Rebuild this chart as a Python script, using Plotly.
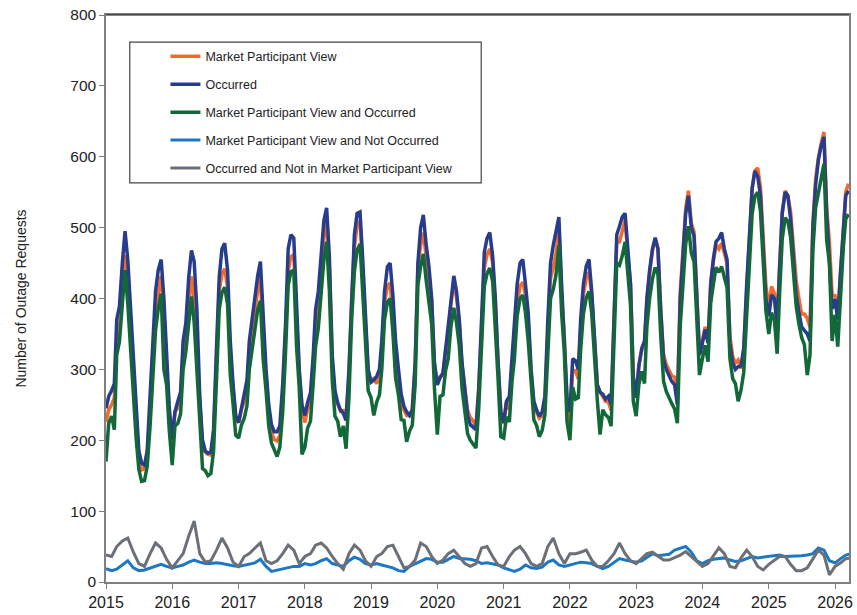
import plotly.graph_objects as go

# semi-monthly dates (1st and 16th of each month), Jan 2015 - Mar 2026
half_month_dates = [f"{y}-{m:02d}-{d:02d}" for y in range(2015, 2027) for m in range(1, 13) for d in (1, 16)
                    if (y, m) <= (2026, 3)]
# monthly dates for the two small series, Jan 2015 - Apr 2026
month_dates = [f"{y}-{m:02d}-01" for y in range(2015, 2027) for m in range(1, 13) if (y, m) <= (2026, 4)]

occurred = [
    245, 262, 270, 280, 370, 389, 450, 495, 455, 390, 310, 245, 185, 168, 165, 185, 260, 340, 410, 440, 455, 400, 310, 245,
    200, 240, 255, 268, 340, 365, 430, 468, 452, 384, 260, 200, 185, 182, 183, 215, 330, 430, 470, 478, 440, 340, 280, 235,
    225, 243, 267, 285, 340, 370, 405, 432, 452, 370, 300, 250, 222, 212, 212, 220, 280, 360, 470, 490, 485, 395, 300, 250,
    235, 253, 267, 320, 384, 410, 469, 510, 528, 460, 320, 270, 253, 243, 238, 228, 300, 410, 490, 520, 522, 455, 385, 300,
    282, 285, 290, 300, 340, 410, 445, 450, 405, 340, 300, 265, 248, 240, 235, 243, 310, 450, 500, 518, 475, 445, 400, 310,
    278, 288, 295, 330, 355, 400, 432, 410, 370, 310, 265, 235, 222, 218, 215, 270, 380, 465, 485, 493, 460, 400, 310, 240,
    225, 255, 262, 320, 360, 420, 450, 455, 420, 380, 300, 255, 243, 234, 240, 262, 370, 450, 475, 495, 515, 420, 350, 260,
    240, 315, 312, 300, 370, 420, 446, 455, 410, 345, 278, 268, 265, 258, 262, 250, 380, 490, 502, 515, 520, 470, 420, 290,
    260, 305, 330, 340, 400, 440, 470, 486, 470, 385, 314, 300, 290, 283, 278, 250, 400, 465, 520, 545, 500, 488, 400, 320,
    337, 356, 337, 420, 455, 480, 485, 493, 470, 455, 337, 309, 300, 304, 305, 330, 420, 500, 555, 580, 572, 545, 470, 400,
    375, 405, 400, 360, 440, 520, 550, 545, 512, 465, 405, 380, 360, 355, 350, 340, 500, 560, 595, 615, 628, 520, 460, 385,
    399, 370, 440, 500, 545, 552,
]

mp_view = [
    226, 243, 250, 260, 338, 357, 416, 461, 423, 358, 288, 223, 175, 158, 160, 180, 240, 320, 377, 407, 432, 377, 300, 235,
    200, 240, 246, 259, 324, 349, 393, 431, 397, 329, 248, 188, 183, 180, 179, 211, 312, 412, 434, 442, 416, 316, 275, 230,
    225, 243, 255, 273, 325, 355, 384, 411, 429, 347, 292, 242, 211, 201, 199, 207, 259, 339, 439, 459, 462, 372, 296, 246,
    225, 243, 251, 304, 358, 384, 444, 485, 513, 445, 310, 260, 251, 241, 242, 232, 290, 400, 473, 503, 509, 442, 381, 296,
    284, 287, 280, 290, 324, 394, 417, 422, 373, 308, 280, 245, 243, 235, 235, 243, 305, 445, 475, 493, 458, 428, 396, 306,
    280, 290, 292, 327, 347, 392, 423, 401, 367, 307, 272, 242, 232, 228, 219, 274, 358, 443, 462, 470, 450, 390, 310, 240,
    223, 253, 243, 301, 330, 390, 418, 423, 404, 364, 294, 249, 240, 231, 235, 257, 348, 428, 444, 464, 499, 404, 346, 256,
    224, 299, 298, 286, 356, 406, 428, 437, 405, 340, 278, 268, 262, 255, 254, 242, 368, 478, 480, 493, 511, 461, 420, 290,
    262, 307, 327, 337, 395, 435, 468, 484, 471, 386, 321, 307, 298, 291, 289, 261, 410, 475, 527, 552, 506, 494, 402, 322,
    341, 360, 341, 424, 451, 476, 470, 478, 464, 449, 346, 318, 309, 313, 301, 326, 408, 488, 555, 580, 584, 557, 488, 418,
    387, 417, 407, 367, 442, 522, 552, 545, 523, 476, 425, 400, 378, 378, 372, 360, 508, 568, 598, 618, 635, 527, 480, 405,
    404, 375, 446, 506, 550, 562,
]

mp_and_occurred = [
    170, 224, 234, 215, 320, 339, 392, 440, 393, 328, 268, 203, 159, 142, 143, 163, 220, 300, 355, 385, 407, 300, 278, 213,
    165, 220, 224, 237, 300, 325, 365, 403, 366, 298, 220, 160, 157, 150, 153, 185, 285, 385, 408, 416, 392, 292, 252, 207,
    203, 221, 231, 249, 300, 330, 357, 384, 397, 315, 270, 220, 196, 186, 177, 190, 240, 320, 418, 438, 440, 333, 274, 180,
    190, 217, 227, 280, 332, 358, 414, 455, 480, 412, 284, 234, 227, 205, 220, 188, 260, 370, 438, 468, 477, 410, 355, 270,
    260, 235, 254, 264, 300, 370, 395, 400, 353, 288, 264, 229, 228, 198, 213, 221, 279, 419, 445, 463, 425, 395, 364, 274,
    208, 262, 264, 299, 315, 360, 387, 365, 334, 274, 239, 209, 200, 194, 189, 244, 332, 417, 435, 443, 424, 364, 286, 205,
    203, 233, 226, 284, 315, 375, 400, 405, 380, 340, 274, 229, 221, 205, 214, 236, 320, 400, 413, 433, 475, 380, 324, 226,
    200, 275, 258, 260, 328, 378, 401, 410, 379, 314, 256, 208, 243, 236, 232, 220, 340, 450, 447, 460, 480, 430, 390, 255,
    234, 279, 297, 280, 360, 400, 428, 444, 434, 349, 283, 269, 259, 252, 244, 224, 362, 427, 477, 502, 464, 452, 372, 292,
    315, 334, 311, 394, 419, 444, 437, 445, 430, 415, 315, 287, 280, 255, 271, 296, 375, 455, 519, 544, 550, 523, 453, 383,
    350, 380, 369, 322, 404, 484, 514, 509, 487, 440, 389, 364, 345, 335, 292, 320, 468, 528, 550, 570, 590, 482, 450, 340,
    377, 332, 413, 473, 512, 519,
]

mp_not_occurred = [
    19, 16, 18, 24, 30, 20, 16, 17, 20, 22, 25, 22,
    20, 22, 24, 28, 31, 28, 26, 26, 27, 26, 24, 23,
    22, 24, 25, 27, 32, 22, 15, 17, 19, 21, 22, 22,
    26, 24, 26, 30, 33, 26, 24, 22, 30, 35, 32, 26,
    24, 26, 24, 22, 20, 16, 15, 22, 26, 30, 33, 32,
    28, 28, 32, 36, 33, 33, 32, 30, 26, 27, 26, 24,
    20, 17, 15, 18, 24, 20, 19, 21, 28, 31, 24, 22,
    24, 26, 28, 27, 26, 22, 19, 22, 28, 33, 31, 30,
    28, 30, 35, 40, 37, 38, 39, 45, 48, 50, 42, 30,
    26, 30, 32, 33, 34, 31, 29, 30, 33, 36, 34, 35,
    37, 38, 38, 36, 36, 36, 37, 38, 40, 48, 45, 30,
    27, 33, 38, 40,
]

occurred_not_mp = [
    38, 36, 50, 58, 62, 42, 26, 22, 40, 55, 48, 32,
    20, 31, 40, 65, 86, 40, 28, 30, 45, 62, 48, 28,
    22, 36, 40, 48, 55, 30, 26, 30, 40, 52, 45, 26,
    36, 40, 52, 55, 48, 36, 26, 18, 40, 52, 45, 30,
    22, 36, 40, 50, 52, 36, 20, 22, 31, 55, 50, 36,
    26, 31, 40, 45, 36, 26, 22, 26, 48, 50, 36, 24,
    22, 36, 45, 50, 40, 26, 22, 26, 50, 62, 40, 26,
    40, 40, 42, 45, 31, 22, 22, 30, 40, 55, 40, 30,
    26, 33, 40, 42, 36, 31, 31, 34, 38, 43, 36, 28,
    22, 26, 36, 48, 40, 22, 20, 34, 45, 36, 22, 17,
    25, 31, 36, 36, 25, 16, 16, 20, 32, 45, 38, 10,
    22, 27, 33, 34,
]

year_ticks = [f"{y}-01-01" for y in range(2015, 2027)]
year_labels = [str(y) for y in range(2015, 2027)]

series = [
    ("Market Participant View", half_month_dates, mp_view, "#F26A2E", 3.5),
    ("Occurred", half_month_dates, occurred, "#283C8C", 3.5),
    ("Market Participant View and Occurred", half_month_dates, mp_and_occurred, "#126838", 3.5),
    ("Market Participant View and Not Occurred", month_dates, mp_not_occurred, "#1C78C4", 3),
    ("Occurred and Not in Market Participant View", month_dates, occurred_not_mp, "#6B7078", 3),
]

fig = go.Figure()
for i, (name, xs, ys, col, w) in enumerate(series):
    fig.add_trace(go.Scatter(x=xs, y=ys, mode="lines", name=name, legendgroup=f"g{i}",
                             line=dict(color=col, width=w)))

FONT = "Liberation Sans, Arial, sans-serif"
fig.update_layout(
    width=857, height=615,
    margin=dict(l=106, r=4, t=15, b=33),
    paper_bgcolor="white", plot_bgcolor="white",
    font=dict(family=FONT, color="#222222"),
    showlegend=True,
    legend=dict(x=0.080, y=0.953, xanchor="left", yanchor="top",
                bgcolor="rgba(0,0,0,0)", borderwidth=0,
                font=dict(size=12.5, family=FONT, color="#222222"),
                tracegroupgap=8.7, itemwidth=30),
    xaxis=dict(type="date", range=["2015-01-01", "2026-03-19"],
               tickvals=year_ticks, ticktext=year_labels,
               ticks="outside", ticklen=5, tickcolor="#808080",
               showline=True, linecolor="#808080", linewidth=1.5, mirror=True,
               showgrid=False, zeroline=False,
               tickfont=dict(size=16, family=FONT, color="#222222")),
    yaxis=dict(range=[0, 800], dtick=100, ticks="outside", ticklen=5, tickcolor="#808080",
               showline=True, linecolor="#808080", linewidth=1.5, mirror=True,
               showgrid=False, zeroline=False,
               tickfont=dict(size=15.5, family=FONT, color="#222222"),
               title=dict(text="Number of Outage Requests", standoff=40,
                          font=dict(size=14, family=FONT, color="#222222"))),
    shapes=[
        dict(type="rect", xref="paper", yref="paper",
             x0=0.032, x1=0.505, y0=0.704, y1=0.952,
             line=dict(color="#444444", width=1.2), fillcolor="rgba(0,0,0,0)", layer="above"),
        dict(type="line", xref="paper", yref="paper", x0=0, x1=1, y0=1, y1=1,
             line=dict(color="#111111", width=1.2)),
    ],
)

fig.write_html("out.html", config={"displayModeBar": False},
               post_script="document.body.style.margin='0';document.body.style.padding='0';")
